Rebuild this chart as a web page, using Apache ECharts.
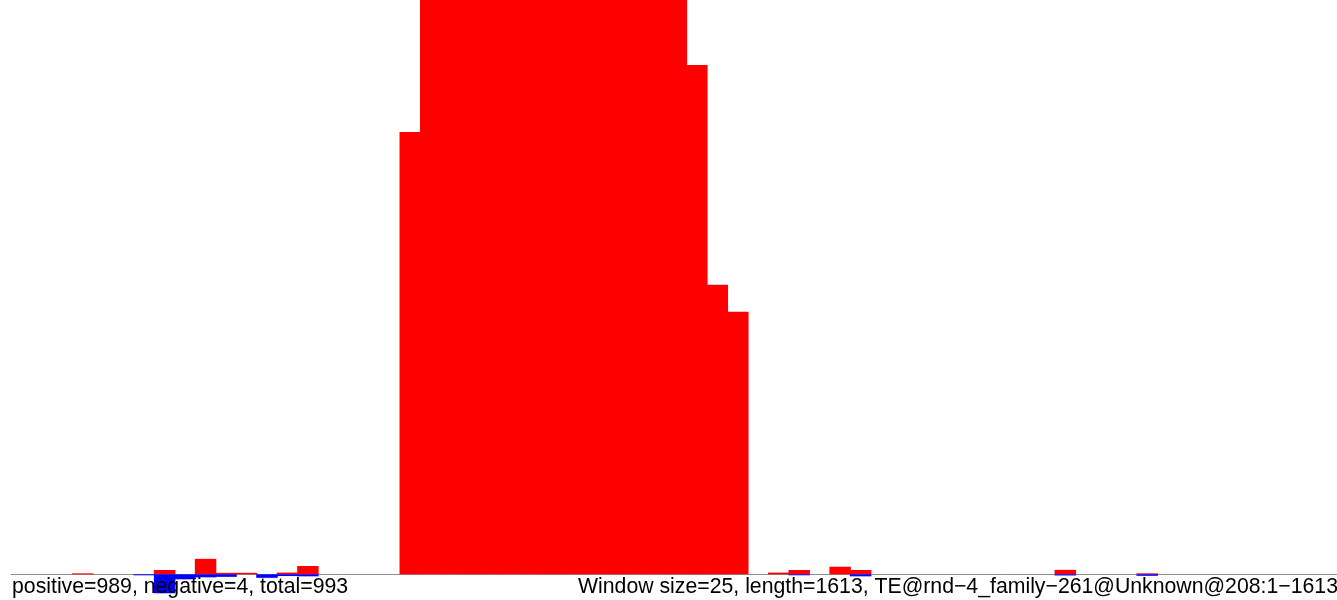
<!DOCTYPE html>
<html>
<head>
<meta charset="utf-8">
<script src="https://cdn.jsdelivr.net/npm/echarts@6/dist/echarts.min.js"></script>
<style>
  html, body { margin: 0; padding: 0; background: #fff; }
  #chart { width: 1337px; height: 600px; }
</style>
</head>
<body>
<div id="chart"></div>
<script>
// Window size 25 over a sequence of length 1613 -> 65 windows, numbered from 0

// Positive hits per window (red, drawn upward)
const positive = [
  0, 0, 0, 0.17, 0, 0, 0, 0.75, 0, 2.7,
  0.26, 0.26, 0, 0.3, 1.45, 0, 0, 0, 0, 77.0,
  132, 141, 150, 158, 163, 166, 168, 165, 160, 152,
  143, 131, 118, 88.7, 50.4, 45.7, 0, 0.3, 0.75, 0,
  1.32, 0.75, 0, 0, 0, 0, 0, 0, 0, 0,
  0, 0.78, 0, 0, 0, 0.17, 0, 0, 0, 0,
  0, 0, 0, 0, 0
];

// Negative hits per window (blue, drawn downward)
const negative = [
  0, 0, 0, 0, 0, 0, -0.17, -3.3, -0.87, -0.52,
  -0.44, 0, -0.61, -0.3, -0.35, 0, 0, 0, 0, 0,
  0, 0, 0, 0, 0, 0, 0, 0, 0, 0,
  0, 0, 0, 0, 0, 0, 0, 0, -0.17, 0,
  0, -0.35, 0, 0, 0, 0, 0, 0, 0, 0,
  0, -0.2, 0, 0, 0, -0.26, 0, 0, 0, 0,
  0, 0, 0, 0, 0
];

const summaryText = 'positive=989, negative=4, total=993';
const titleText = 'Window size=25, length=1613, TE@rnd\u22124_family\u2212261@Unknown@208:1\u22121613';

// Each window is centred on its index + 0.5 along the x axis
const toPoints = (vals) => vals.map((v, i) => [i + 0.5, v]);

const chart = echarts.init(document.getElementById('chart'), null, { renderer: 'canvas' });
const font = '"Liberation Sans", Arial, Helvetica, sans-serif';

const gridLeft = 11.1;
const binPx = 20.47;
const chartWidth = 1337;

const barStyle = (color) => ({
  color: color,
  borderColor: color,
  borderWidth: 0,
  opacity: 1
});

chart.setOption({
  animation: false,
  backgroundColor: '#ffffff',
  grid: { left: gridLeft, right: 0, top: 0, bottom: 0, containLabel: false },
  xAxis: {
    type: 'value',
    min: 0,
    max: (chartWidth - gridLeft) / binPx,
    axisLine: { show: true, onZero: true, lineStyle: { color: '#8f8f8f', width: 1 } },
    axisTick: { show: false },
    axisLabel: { show: false },
    splitLine: { show: false }
  },
  yAxis: {
    type: 'value',
    min: -4.47,
    max: 100,
    show: false,
    splitLine: { show: false }
  },
  series: [
    {
      type: 'bar',
      name: 'positive',
      data: toPoints(positive),
      barWidth: binPx + 1,
      barGap: '-100%',
      clip: true,
      itemStyle: barStyle('#ff0000')
    },
    {
      type: 'bar',
      name: 'negative',
      data: toPoints(negative),
      barWidth: binPx + 1,
      barGap: '-100%',
      clip: true,
      itemStyle: barStyle('#0000ff')
    }
  ],
  graphic: [
    {
      type: 'text',
      left: 12,
      top: 577,
      z: 100,
      style: { text: summaryText, fill: '#000', font: '21.25px ' + font }
    },
    {
      type: 'text',
      left: 578,
      top: 577,
      z: 100,
      style: { text: titleText, fill: '#000', font: '21.25px ' + font }
    }
  ]
});
</script>
</body>
</html>
